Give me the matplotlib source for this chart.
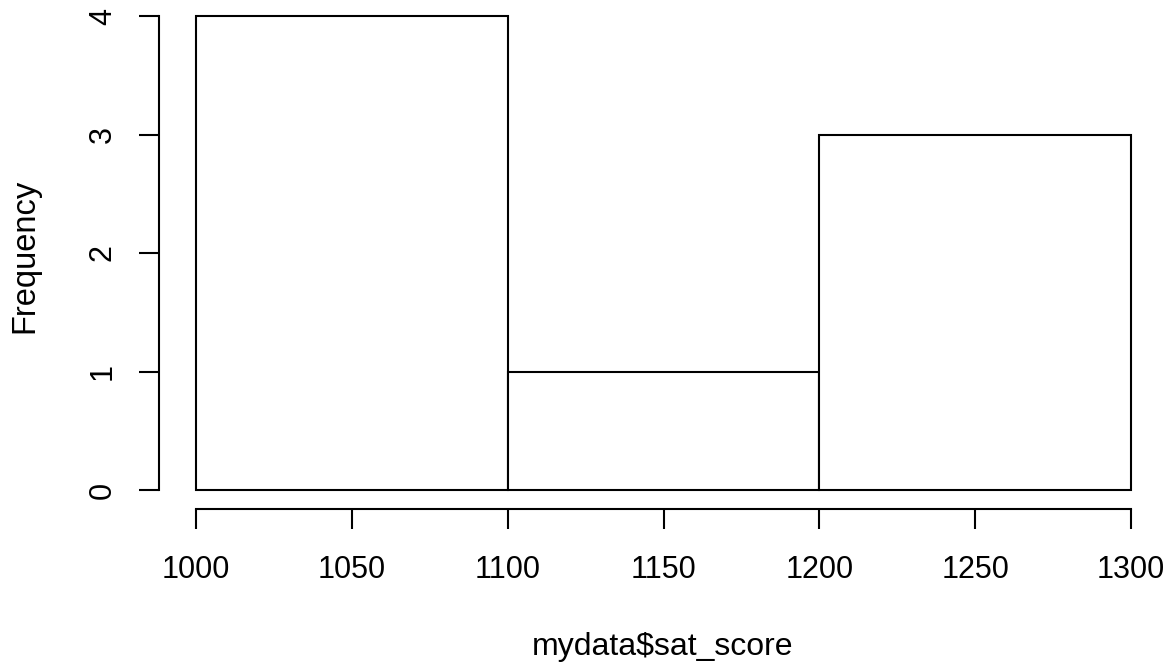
import matplotlib
matplotlib.use("Agg")
import matplotlib.pyplot as plt

bin_edges = [1000, 1100, 1200, 1300]
counts = [4, 1, 3]
x_ticks = [1000, 1050, 1100, 1150, 1200, 1250, 1300]
y_ticks = [0, 1, 2, 3, 4]
x_label = "mydata$sat_score"
y_label = "Frequency"

plt.rcParams['font.family'] = ['Liberation Sans', 'DejaVu Sans']
W, H = 1173, 665
fig = plt.figure(figsize=(W / 100, H / 100), dpi=100)

# plot region (R style: 4% extension)
x0, x1 = 988, 1312
y0, y1 = -0.16, 4.16
px_l = 196 - 12 * (935 / 300)
px_r = 1131 + 12 * (935 / 300)
py_b = 490 + 0.16 * 118.5
py_t = 16 - 0.16 * 118.5
ax = fig.add_axes([px_l / W, 1 - py_b / H, (px_r - px_l) / W, (py_b - py_t) / H])
ax.set_xlim(x0, x1)
ax.set_ylim(y0, y1)
ax.patch.set_alpha(0)

widths = [bin_edges[i + 1] - bin_edges[i] for i in range(len(counts))]
ax.bar(bin_edges[:-1], counts, width=widths, align='edge', facecolor='white',
       edgecolor='black', linewidth=1.5, clip_on=False)

for s in ['top', 'right']:
    ax.spines[s].set_visible(False)
for s in ['left', 'bottom']:
    ax.spines[s].set_linewidth(1.5)
ax.spines['left'].set_bounds(y_ticks[0], y_ticks[-1])
ax.spines['bottom'].set_bounds(x_ticks[0], x_ticks[-1])

ax.set_xticks(x_ticks)
ax.set_xticklabels([str(v) for v in x_ticks])
ax.set_yticks(y_ticks)
ax.set_yticklabels([str(v) for v in y_ticks], rotation=90, va='center')
ax.tick_params(axis='both', direction='out', length=14.4, width=1.5, labelsize=22)
ax.tick_params(axis='x', pad=19)
ax.tick_params(axis='y', pad=15)

fig.text(663 / W, 1 - 647 / H, x_label, ha='center', va='center', fontsize=23)
fig.text(25 / W, 1 - 256 / H, y_label, ha='center', va='center', rotation=90, fontsize=23.5)

fig.savefig("out.png", dpi=100)
